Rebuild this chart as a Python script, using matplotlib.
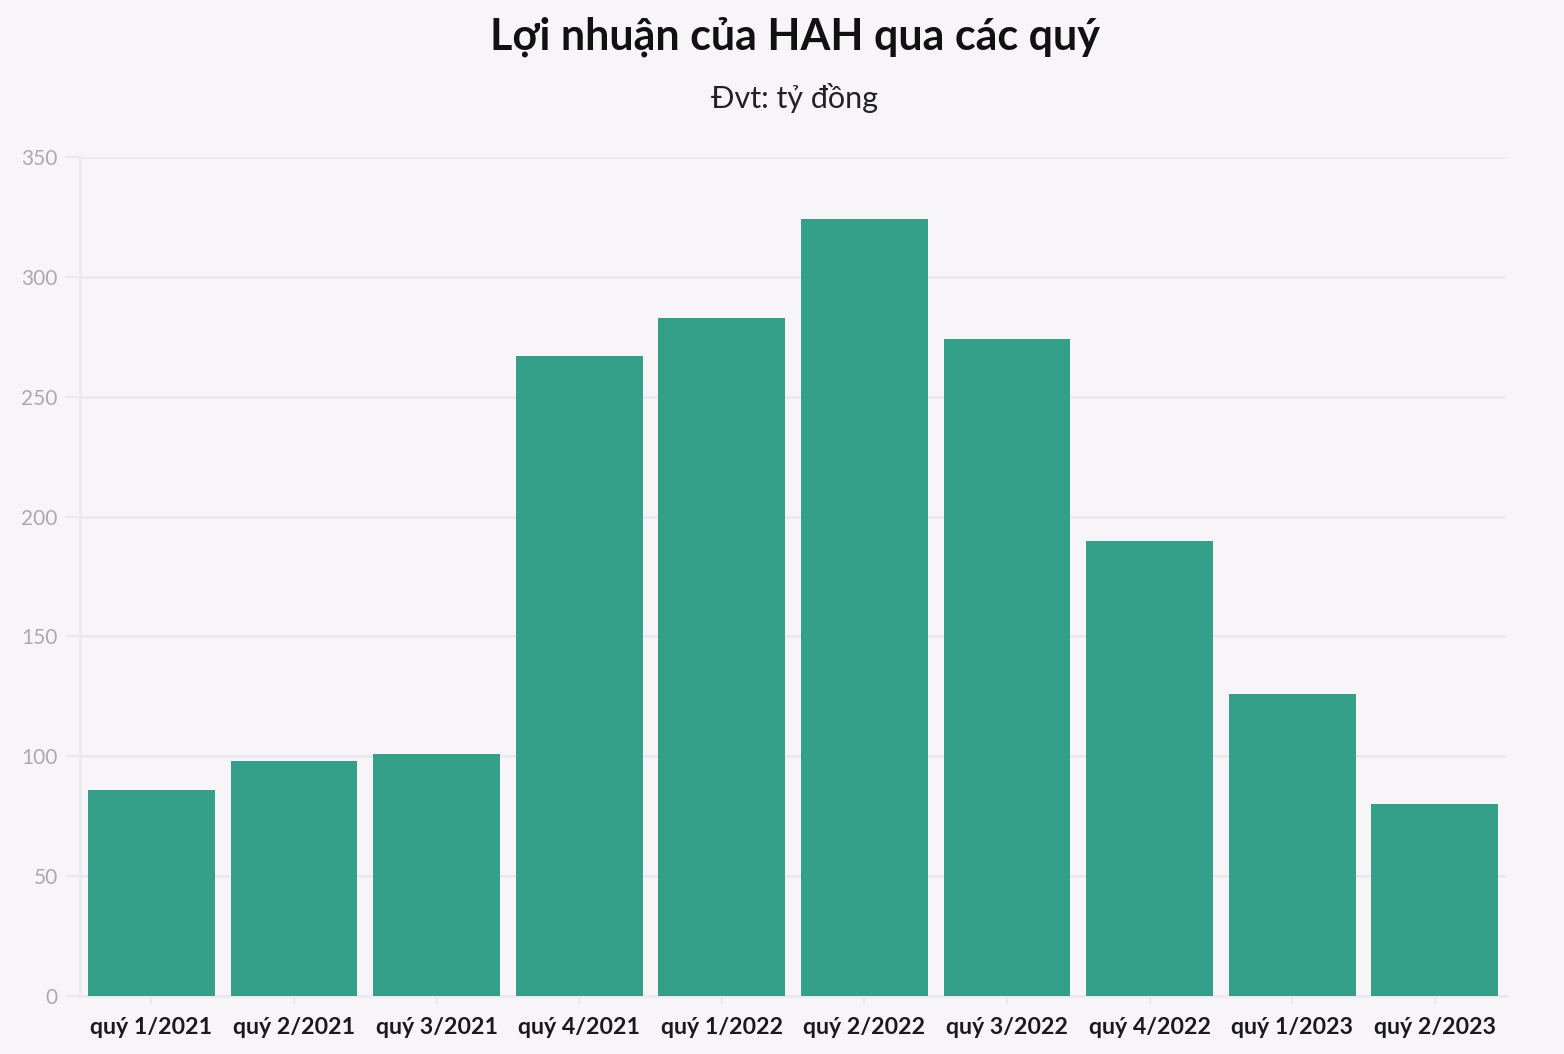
import matplotlib
matplotlib.use("Agg")
import matplotlib.pyplot as plt

quarters = ["quý 1/2021", "quý 2/2021", "quý 3/2021", "quý 4/2021",
            "quý 1/2022", "quý 2/2022", "quý 3/2022", "quý 4/2022",
            "quý 1/2023", "quý 2/2023"]
profit = [86, 98, 101, 267, 283, 324, 274, 190, 126, 80]
yticks = [0, 50, 100, 150, 200, 250, 300, 350]

bg = "#f7f5f8"
plt.rcParams["font.family"] = ["Lato", "DejaVu Sans"]

fig = plt.figure(figsize=(15.64, 10.54), dpi=100, facecolor=bg)
ax = fig.add_axes([0.0512, 0.055, 0.9118, 0.796], facecolor=bg)

ax.bar(range(len(profit)), profit, width=0.89, color="#35a08a", zorder=3)

ax.set_xlim(-0.5, len(profit) - 0.5)
ax.set_ylim(0, 350)
ax.set_yticks(yticks)
ax.set_xticks(range(len(quarters)))
ax.set_xticklabels(quarters, fontsize=16.7, fontweight="bold", color="#1a1a1a")
ax.tick_params(axis="y", length=10, color="#ebe9ee", width=1.5,
               labelsize=15, labelcolor="#aaaaaa", pad=6)
ax.tick_params(axis="x", length=6, color="#ebe9ee", width=1.5, pad=9)
ax.grid(axis="y", color="#ebe9ee", linewidth=2, zorder=0)

for s in ["top", "right"]:
    ax.spines[s].set_visible(False)
ax.spines["left"].set_color("#ebe9ee")
ax.spines["left"].set_linewidth(2)
ax.spines["bottom"].set_color("#ebe9ee")
ax.spines["bottom"].set_linewidth(2)

fig.text(0.508, 0.965, "Lợi nhuận của HAH qua các quý", ha="center", va="center",
         fontsize=31, fontweight="bold", color="#111111")
fig.text(0.508, 0.907, "Đvt: tỷ đồng", ha="center", va="center",
         fontsize=22, color="#222222")

fig.savefig("out.png", dpi=100, facecolor=bg)
